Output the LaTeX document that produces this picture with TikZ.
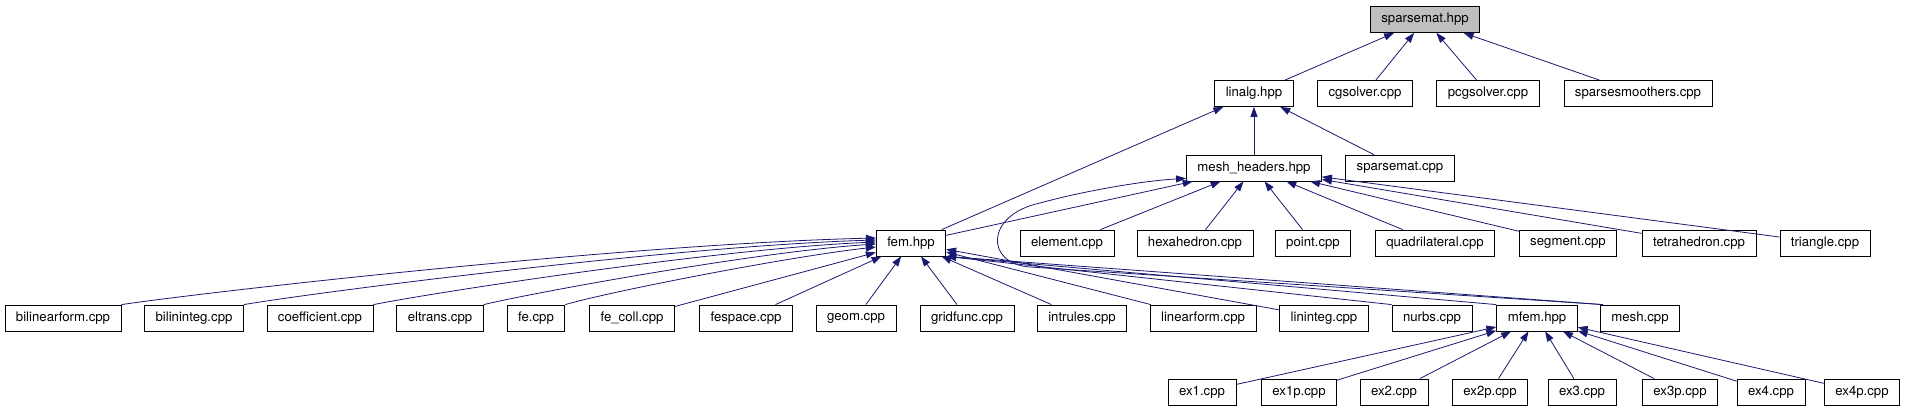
\documentclass[tikz,border=0pt]{standalone}
\usepackage{fontspec}
\setmainfont{TeX Gyre Heros}
\usetikzlibrary{arrows.meta}
\definecolor{edgeblue}{RGB}{25,25,112}
\definecolor{softgray}{RGB}{191,191,191}

\begin{document}
\begin{tikzpicture}[x=1pt, y=-1pt,
    every node/.style={font=\fontsize{13.2}{15}\selectfont},
    file/.style={draw, line width=0.8pt, fill=white, inner xsep=11pt, inner ysep=0pt, minimum height=26pt},
    dep/.style={draw=edgeblue, line width=0.8pt, -{Triangle[length=10pt, width=7pt]}}]
    \useasboundingbox (0,0) rectangle (1909,411);

    % top rows
    \node[file, fill=softgray] (sparsemat) at (1425,19.5) {sparsemat.hpp};
    \node[file] (linalg)    at (1254,93.5) {linalg.hpp};
    \node[file] (cgsolver)  at (1365,93.5) {cgsolver.cpp};
    \node[file] (pcgsolver) at (1488,93.5) {pcgsolver.cpp};
    \node[file] (smoothers) at (1638,93.5) {sparsesmoothers.cpp};
    \node[file] (meshh)        at (1254,168) {mesh\_headers.hpp};
    \node[file] (sparsematcpp) at (1400,168) {sparsemat.cpp};

    % fem.hpp row
    \node[file] (fem)      at (911,243)  {fem.hpp};
    \node[file] (element)  at (1067,243) {element.cpp};
    \node[file] (hexa)     at (1195,243) {hexahedron.cpp};
    \node[file] (point)    at (1313,243) {point.cpp};
    \node[file] (quad)     at (1435,243) {quadrilateral.cpp};
    \node[file] (segment)  at (1568,243) {segment.cpp};
    \node[file] (tetra)    at (1699,243) {tetrahedron.cpp};
    \node[file] (triangle) at (1825,243) {triangle.cpp};

    % sources of fem.hpp
    \node[file] (bilinform)  at (63,318)   {bilinearform.cpp};
    \node[file] (bilininteg) at (194,318)  {bilininteg.cpp};
    \node[file] (coeff)      at (320,318)  {coefficient.cpp};
    \node[file] (eltrans)    at (440,318)  {eltrans.cpp};
    \node[file] (fe)         at (536,318)  {fe.cpp};
    \node[file] (fecoll)     at (632,318)  {fe\_coll.cpp};
    \node[file] (fespace)    at (746,318)  {fespace.cpp};
    \node[file] (geom)       at (856,318)  {geom.cpp};
    \node[file] (gridfunc)   at (967,318)  {gridfunc.cpp};
    \node[file] (intrules)   at (1082,318) {intrules.cpp};
    \node[file] (linform)    at (1203,318) {linearform.cpp};
    \node[file] (lininteg)   at (1324,318) {lininteg.cpp};
    \node[file] (nurbs)      at (1432,318) {nurbs.cpp};
    \node[file] (mfem)       at (1537,318) {mfem.hpp};
    \node[file] (meshcpp)    at (1640,318) {mesh.cpp};

    % examples
    \node[file] (ex1)  at (1202,392) {ex1.cpp};
    \node[file] (ex1p) at (1299,392) {ex1p.cpp};
    \node[file] (ex2)  at (1394,392) {ex2.cpp};
    \node[file] (ex2p) at (1490,392) {ex2p.cpp};
    \node[file] (ex3)  at (1582,392) {ex3.cpp};
    \node[file] (ex3p) at (1680,392) {ex3p.cpp};
    \node[file] (ex4)  at (1771,392) {ex4.cpp};
    \node[file] (ex4p) at (1862,392) {ex4p.cpp};

    \draw[dep] (linalg) -- (sparsemat);
    \draw[dep] (cgsolver) -- (sparsemat);
    \draw[dep] (pcgsolver) -- (sparsemat);
    \draw[dep] (smoothers) -- (sparsemat);
    \draw[dep] (meshh) -- (linalg);
    \draw[dep] (sparsematcpp) -- (linalg);
    \draw[dep] (fem) -- (linalg);
    \draw[dep] (fem) -- (meshh);
    \draw[dep] (element) -- (meshh);
    \draw[dep] (hexa) -- (meshh);
    \draw[dep] (point) -- (meshh);
    \draw[dep] (quad) -- (meshh);
    \draw[dep] (segment) -- (meshh);
    \draw[dep] (tetra) -- (meshh);
    \draw[dep] (triangle) -- (meshh);
    \draw[dep] ([xshift=3pt]meshcpp.north west) -- (1030,267)
        .. controls (985,264) and (985,215) .. (1040,203)
        .. controls (1080,192) and (1140,181) .. ([yshift=3pt]meshh.south west);

    \draw[dep] (bilinform.north east) .. controls +(80,-12) and +(-250,6) .. ([yshift=5pt]fem.west);
    \draw[dep] (bilininteg.north east) .. controls +(70,-12) and +(-200,6) .. ([yshift=3pt]fem.west);
    \draw[dep] (coeff.north east) .. controls +(60,-12) and +(-160,7) .. ([yshift=1pt]fem.west);
    \draw[dep] (eltrans.north east) .. controls +(50,-12) and +(-120,8) .. ([yshift=-1pt]fem.west);
    \draw[dep] (fe.north east) .. controls +(40,-12) and +(-90,10) .. ([yshift=-4pt]fem.west);
    \draw[dep] (fecoll) -- (fem);
    \draw[dep] (fespace) -- (fem);
    \draw[dep] (geom) -- (fem);
    \draw[dep] (gridfunc) -- (fem);
    \draw[dep] (intrules) -- (fem);
    \draw[dep] (linform) -- (fem);
    \draw[dep] (lininteg) -- (fem);
    \draw[dep] (nurbs.north west) -- (fem.south east);
    \draw[dep] (mfem.north west) -- (fem.south east);
    \draw[dep] ([xshift=3pt]meshcpp.north west) -- (fem.south east);

    \draw[dep] (ex1) -- (mfem);
    \draw[dep] (ex1p) -- (mfem);
    \draw[dep] (ex2) -- (mfem);
    \draw[dep] (ex2p) -- (mfem);
    \draw[dep] (ex3) -- (mfem);
    \draw[dep] (ex3p) -- (mfem);
    \draw[dep] (ex4) -- (mfem);
    \draw[dep] (ex4p) -- (mfem);
\end{tikzpicture}
\end{document}
